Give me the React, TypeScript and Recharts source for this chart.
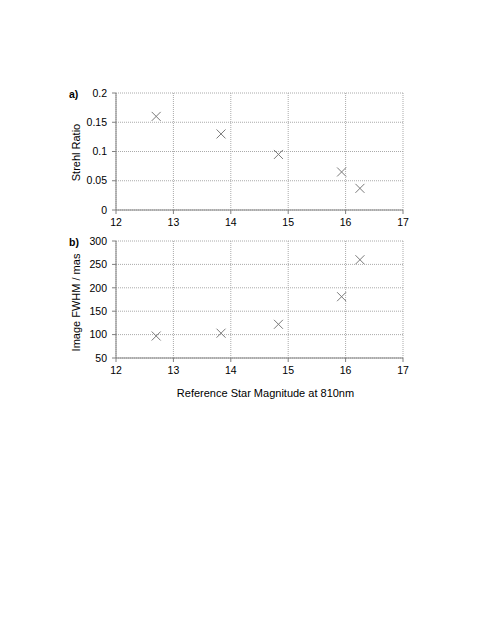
import React from 'react';
import { ScatterChart, Scatter, XAxis, YAxis, CartesianGrid, Label } from 'recharts';

const magnitudes = [12.7, 13.83, 14.83, 15.93, 16.25];
const strehl = [0.16, 0.13, 0.095, 0.065, 0.037];
const fwhm = [97, 103, 122, 181, 260];
const xTicks = [12, 13, 14, 15, 16, 17];
const strehlTicks = [0, 0.05, 0.1, 0.15, 0.2];
const fwhmTicks = [50, 100, 150, 200, 250, 300];

const strehlData = magnitudes.map((m, i) => ({ x: m, y: strehl[i] }));
const fwhmData = magnitudes.map((m, i) => ({ x: m, y: fwhm[i] }));

const FONT = 'Liberation Sans, Arial, sans-serif';
const tickStyle = { fontSize: 10.5, fill: '#000', fontFamily: FONT };
const labelStyle = { fontSize: 11, fill: '#000', fontFamily: FONT };

const Cross = (props: any) => {
  const { cx, cy } = props;
  const s = 4.5;
  return (
    <g stroke="#7a7a7a" strokeWidth={1}>
      <line x1={cx - s} y1={cy - s} x2={cx + s} y2={cy + s} />
      <line x1={cx - s} y1={cy + s} x2={cx + s} y2={cy - s} />
    </g>
  );
};

export default function App() {
  return (
    <div style={{ position: 'absolute', left: 0, top: 0, width: 480, height: 621, background: '#fff' }}>
      <div style={{ position: 'absolute', left: 0, top: 0 }}>
        <ScatterChart width={480} height={260} margin={{ top: 93, right: 77, bottom: 30, left: 0 }}>
          <CartesianGrid stroke="#aaa" strokeDasharray="1 1" />
          <XAxis
            type="number"
            dataKey="x"
            domain={[12, 17]}
            ticks={xTicks}
            height={20}
            stroke="#808080"
            tickSize={4}
            tickMargin={5}
            tick={tickStyle}
          />
          <YAxis
            type="number"
            dataKey="y"
            domain={[0, 0.2]}
            ticks={strehlTicks}
            width={116}
            stroke="#808080"
            tickSize={4}
            tickMargin={5}
            tick={tickStyle}
          >
            <Label value="Strehl Ratio" angle={-90} position="center" dx={18} dy={1} style={labelStyle} />
          </YAxis>
          <Scatter data={strehlData} shape={Cross} isAnimationActive={false} />
        </ScatterChart>
      </div>
      <div style={{ position: 'absolute', left: 0, top: 0 }}>
        <ScatterChart width={480} height={400} margin={{ top: 241, right: 77, bottom: 2, left: 0 }}>
          <CartesianGrid stroke="#aaa" strokeDasharray="1 1" />
          <XAxis
            type="number"
            dataKey="x"
            domain={[12, 17]}
            ticks={xTicks}
            height={40}
            stroke="#808080"
            tickSize={4}
            tickMargin={5}
            tick={tickStyle}
          >
            <Label value="Reference Star Magnitude at 810nm" position="insideBottom" offset={0} dx={6} dy={-1} style={labelStyle} />
          </XAxis>
          <YAxis
            type="number"
            dataKey="y"
            domain={[50, 300]}
            ticks={fwhmTicks}
            width={116}
            stroke="#808080"
            tickSize={4}
            tickMargin={5}
            tick={tickStyle}
          >
            <Label value="Image FWHM / mas" angle={-90} position="center" dx={18} dy={3} style={labelStyle} />
          </YAxis>
          <Scatter data={fwhmData} shape={Cross} isAnimationActive={false} />
        </ScatterChart>
      </div>
      <div style={{ position: 'absolute', left: 69, top: 88, fontFamily: FONT, fontWeight: 'bold', fontSize: 10.5, lineHeight: '12px' }}>a)</div>
      <div style={{ position: 'absolute', left: 69, top: 236, fontFamily: FONT, fontWeight: 'bold', fontSize: 10.5, lineHeight: '12px' }}>b)</div>
    </div>
  );
}
